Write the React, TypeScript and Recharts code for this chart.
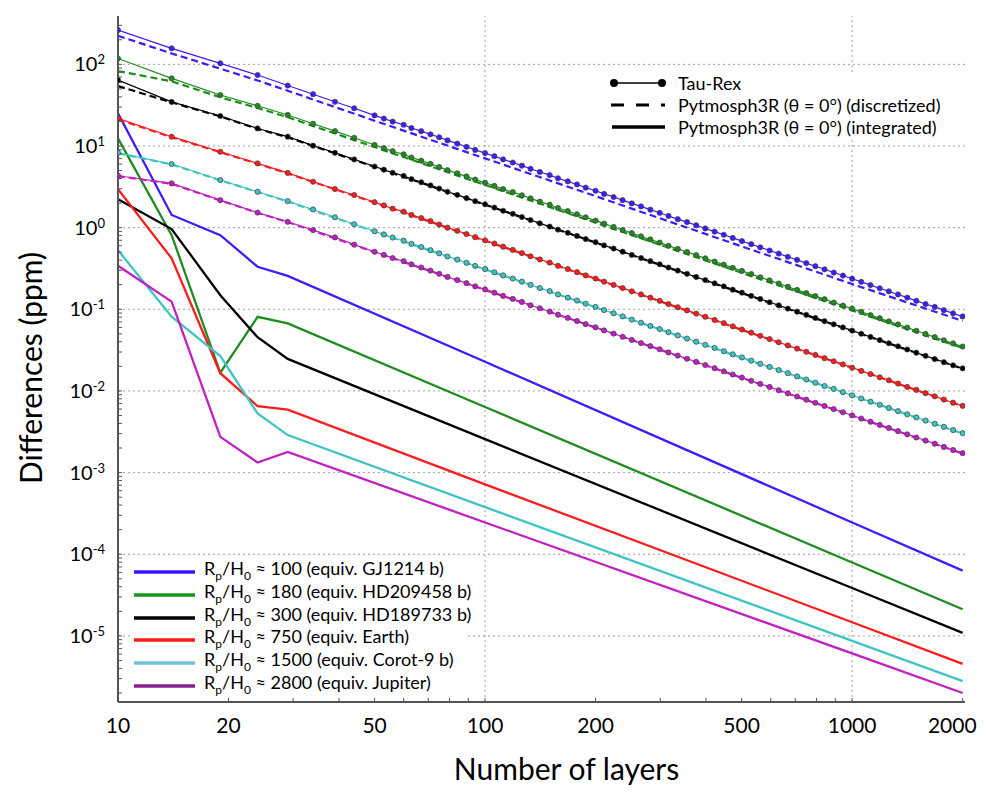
import React from 'react';
import { LineChart, Line, XAxis, YAxis, ReferenceLine, Label } from 'recharts';

const FONT = "Lato, 'Open Sans', sans-serif";

// ---------- series meta ----------
const ratioLabels = ['100', '180', '300', '750', '1500', '2800'];
const planetLabels = ['GJ1214 b', 'HD209458 b', 'HD189733 b', 'Earth', 'Corot-9 b', 'Jupiter'];
const lineColors = ['#3b1eff', '#1e8c1e', '#000000', '#ff1c1c', '#3fc4c4', '#c21fc2'];
const legendColors = ['#3a16ff', '#16961a', '#000000', '#ff1a1a', '#72c0d6', '#8c1c92'];

// ---------- Tau-Rex (markers) ----------
const tauN = [10, 14, 19, 24, 29, 34, 39, 44,
  50, 53, 56, 60, 63, 67, 71, 75, 79, 84, 89, 94,
  100, 106, 112, 119, 126, 133, 141, 150, 158, 168, 178, 188,
  200, 211, 224, 237, 251, 266, 282, 299, 316, 335, 355, 376,
  398, 422, 447, 473, 501, 531, 562, 596, 631, 668, 708, 750,
  794, 841, 891, 944,
  1000, 1059, 1122, 1189, 1259, 1334, 1413, 1496, 1585, 1679, 1778, 1884, 2000];

const tauBlue = [263, 157, 103, 74.0, 55.0, 43.1, 34.8, 29.0,
  23.7, 21.7, 19.9, 18.2, 16.6, 15.2, 13.9, 12.8, 11.7, 10.7, 9.78, 8.95,
  8.19, 7.50, 6.86, 6.28, 5.74, 5.26, 4.81, 4.40, 4.03, 3.69, 3.38, 3.09,
  2.83, 2.59, 2.37, 2.17, 1.98, 1.82, 1.66, 1.52, 1.39, 1.27, 1.17, 1.07,
  0.977, 0.894, 0.818, 0.749, 0.685, 0.627, 0.574, 0.525, 0.481, 0.440, 0.403, 0.368,
  0.337, 0.309, 0.282, 0.259,
  0.237, 0.217, 0.198, 0.181, 0.166, 0.152, 0.139, 0.127, 0.116, 0.107, 0.0976, 0.0893, 0.0817];

const tauGreen = [118, 67.3, 42.1, 31.1, 24.0, 18.7, 15.2, 12.6,
  10.3, 9.43, 8.63, 7.90, 7.22, 6.61, 6.05, 5.53, 5.06, 4.63, 4.24, 3.88,
  3.55, 3.25, 2.97, 2.72, 2.49, 2.28, 2.08, 1.91, 1.74, 1.60, 1.46, 1.34,
  1.22, 1.12, 1.02, 0.936, 0.857, 0.784, 0.717, 0.656, 0.600, 0.549, 0.503, 0.460,
  0.421, 0.385, 0.352, 0.322, 0.295, 0.270, 0.247, 0.226, 0.207, 0.189, 0.173, 0.158,
  0.145, 0.133, 0.121, 0.111,
  0.102, 0.0929, 0.0851, 0.0778, 0.0712, 0.0652, 0.0596, 0.0546, 0.0499, 0.0457, 0.0418, 0.0382, 0.0350];

const tauBlack = [64.3, 34.7, 23.3, 16.4, 13.0, 10.1, 8.26, 6.85,
  5.61, 5.13, 4.70, 4.30, 3.93, 3.60, 3.29, 3.01, 2.75, 2.52, 2.30, 2.11,
  1.93, 1.76, 1.61, 1.48, 1.35, 1.24, 1.13, 1.03, 0.946, 0.866, 0.792, 0.725,
  0.663, 0.606, 0.555, 0.508, 0.464, 0.425, 0.389, 0.356, 0.325, 0.298, 0.272, 0.249,
  0.228, 0.208, 0.191, 0.174, 0.160, 0.146, 0.134, 0.122, 0.112, 0.102, 0.0936, 0.0856,
  0.0783, 0.0716, 0.0655, 0.0600,
  0.0548, 0.0502, 0.0459, 0.0420, 0.0384, 0.0352, 0.0322, 0.0294, 0.0269, 0.0246, 0.0225, 0.0206, 0.0189];

const tauRed = [21.8, 13.0, 8.50, 6.12, 4.68, 3.65, 2.97, 2.51,
  2.05, 1.87, 1.71, 1.57, 1.43, 1.31, 1.20, 1.09, 1.00, 0.915, 0.836, 0.764,
  0.699, 0.639, 0.584, 0.534, 0.488, 0.446, 0.408, 0.373, 0.341, 0.311, 0.285, 0.260,
  0.238, 0.218, 0.199, 0.182, 0.166, 0.152, 0.139, 0.127, 0.116, 0.106, 0.0970, 0.0886,
  0.0811, 0.0741, 0.0677, 0.0619, 0.0566, 0.0517, 0.0473, 0.0432, 0.0395, 0.0361, 0.0330, 0.0302,
  0.0276, 0.0252, 0.0231, 0.0211,
  0.0193, 0.0176, 0.0161, 0.0147, 0.0135, 0.0123, 0.0112, 0.0103, 0.00940, 0.00859, 0.00785, 0.00718, 0.00657];

const tauCyan = [8.26, 6.01, 3.83, 2.75, 2.11, 1.67, 1.34, 1.10,
  0.904, 0.827, 0.756, 0.692, 0.633, 0.579, 0.530, 0.485, 0.443, 0.406, 0.371, 0.340,
  0.311, 0.284, 0.260, 0.238, 0.218, 0.199, 0.182, 0.167, 0.152, 0.139, 0.128, 0.117,
  0.107, 0.0977, 0.0894, 0.0818, 0.0748, 0.0684, 0.0626, 0.0573, 0.0524, 0.0479, 0.0438, 0.0401,
  0.0367, 0.0336, 0.0307, 0.0281, 0.0257, 0.0235, 0.0215, 0.0197, 0.0180, 0.0165, 0.0151, 0.0138,
  0.0126, 0.0115, 0.0106, 0.00966,
  0.00883, 0.00808, 0.00739, 0.00677, 0.00619, 0.00566, 0.00518, 0.00474, 0.00434, 0.00397, 0.00363, 0.00332, 0.00304];

const tauMagenta = [4.32, 3.48, 2.17, 1.53, 1.18, 0.933, 0.760, 0.619,
  0.507, 0.464, 0.424, 0.388, 0.355, 0.325, 0.298, 0.272, 0.249, 0.228, 0.209, 0.191,
  0.175, 0.160, 0.146, 0.134, 0.123, 0.112, 0.103, 0.0939, 0.0859, 0.0786, 0.0719, 0.0658,
  0.0602, 0.0551, 0.0504, 0.0461, 0.0422, 0.0386, 0.0354, 0.0324, 0.0296, 0.0271, 0.0248, 0.0227,
  0.0208, 0.0190, 0.0174, 0.0159, 0.0146, 0.0133, 0.0122, 0.0112, 0.0102, 0.00934, 0.00855, 0.00782,
  0.00716, 0.00655, 0.00599, 0.00548,
  0.00502, 0.00459, 0.00420, 0.00384, 0.00352, 0.00322, 0.00294, 0.00269, 0.00247, 0.00226, 0.00206, 0.00189, 0.00173];

// ---------- Pytmosph3R discretized (dashed) ----------
const discN = [10, 14, 19, 24, 29, 50, 100, 200, 500, 1000, 2000];
const discBlue = [224, 136, 88.5, 63.5, 47.5, 20.4, 7.05, 2.43, 0.59, 0.204, 0.072];
const discGreen = [82.8, 62.0, 39.5, 29.2, 22.5, 9.7, 3.33, 1.15, 0.28, 0.097, 0.0335];
const discBlack = [54.2, 34.2, 23.0, 16.2, 12.8, 5.55, 1.91, 0.656, 0.158, 0.0543, 0.0187];
const discRed = [21.3, 12.8, 8.4, 6.05, 4.62, 2.03, 0.69, 0.236, 0.056, 0.0192, 0.0065];
const discCyan = [8.15, 5.95, 3.80, 2.73, 2.09, 0.895, 0.308, 0.106, 0.0255, 0.0088, 0.0030];
const discMagenta = [4.27, 3.45, 2.15, 1.52, 1.17, 0.502, 0.173, 0.0597, 0.0145, 0.00497, 0.00171];

// ---------- differences (lower thick curves) ----------
const diffN = [10, 14, 19, 24, 29, 100, 1000, 2000];
const diffBlue = [25.1, 1.43, 0.81, 0.332, 0.257, 0.0228, 2.45e-4, 6.30e-5];
const diffGreen = [12.4, 0.81, 0.0167, 0.0807, 0.0671, 6.35e-3, 7.93e-5, 2.12e-5];
const diffBlack = [2.23, 0.96, 0.149, 0.0455, 0.0247, 2.57e-3, 3.86e-5, 1.09e-5];
const diffRed = [2.96, 0.42, 0.0165, 0.0065, 0.0059, 7.18e-4, 1.47e-5, 4.55e-6];
const diffCyan = [0.53, 0.081, 0.0267, 0.0053, 0.00288, 3.78e-4, 8.69e-6, 2.79e-6];
const diffMagenta = [0.341, 0.124, 0.00274, 0.00133, 0.00179, 2.45e-4, 6.10e-6, 2.00e-6];

// ---------- axes ----------
const xDomain = [10, 2030];
const yDomain = [1.55e-6, 391];
const xLabelTicks = [10, 20, 50, 100, 200, 500, 1000, 2000];
const xGridValues = [100, 1000];
const yLabelExps = [-5, -4, -3, -2, -1, 0, 1, 2];
const minorMults = [1, 2, 3, 4, 5, 6, 7, 8, 9];
const xDecades = [1, 2, 3];
const yDecades = [-6, -5, -4, -3, -2, -1, 0, 1, 2];

const xMinorTicks = xDecades
  .flatMap((e) => minorMults.map((m) => Number((m * Math.pow(10, e)).toPrecision(6))))
  .filter((v) => v >= xDomain[0] && v <= xDomain[1]);
const yMinorTicks = yDecades
  .flatMap((e) => minorMults.map((m) => Number((m * Math.pow(10, e)).toPrecision(6))))
  .filter((v) => v >= yDomain[0] && v <= yDomain[1]);
const yGridValues = yLabelExps.map((e) => Number(Math.pow(10, e).toPrecision(6)));

const toPts = (ns: number[], vs: number[]) => ns.map((n, i) => ({ n, v: vs[i] }));

const tauAll = [tauBlue, tauGreen, tauBlack, tauRed, tauCyan, tauMagenta];
const discAll = [discBlue, discGreen, discBlack, discRed, discCyan, discMagenta];
const diffAll = [diffBlue, diffGreen, diffBlack, diffRed, diffCyan, diffMagenta];

const AXIS_COLOR = '#555555';

const XTick = (props: any) => {
  const { x, y, payload } = props;
  if (!xLabelTicks.includes(payload.value)) return <g />;
  const isLast = payload.value === xLabelTicks[xLabelTicks.length - 1];
  return (
    <text
      x={isLast ? x + 14 : x}
      y={y + 31}
      textAnchor={isLast ? 'end' : 'middle'}
      fontSize={21}
      fontFamily={FONT}
      fill="#000"
      stroke="none"
    >
      {payload.value}
    </text>
  );
};

const YTick = (props: any) => {
  const { x, y, payload } = props;
  const lg = Math.log10(payload.value);
  const e = Math.round(lg);
  if (Math.abs(lg - e) > 1e-6 || !yLabelExps.includes(e)) return <g />;
  return (
    <text x={x} y={y + 7} textAnchor="end" fontSize={20} fontFamily={FONT} fill="#000" stroke="none">
      10
      <tspan dy={-7} fontSize={13}>{String(e)}</tspan>
    </text>
  );
};

const EmptyTick = () => <g />;

const TopLegend = () => {
  const rows = [
    { label: 'Tau-Rex', kind: 'tau' },
    { label: 'Pytmosph3R (θ = 0°) (discretized)', kind: 'dash' },
    { label: 'Pytmosph3R (θ = 0°) (integrated)', kind: 'solid' },
  ];
  return (
    <div style={{ position: 'absolute', left: 587, top: 64, width: 360, background: '#fff', fontFamily: FONT }}>
      {rows.map((r) => (
        <div key={r.label} style={{ height: 22, display: 'flex', alignItems: 'center' }}>
          <svg width={64} height={22} style={{ marginLeft: 8, flex: 'none' }}>
            {r.kind === 'tau' && (
              <g>
                <line x1={11} y1={11} x2={59} y2={11} stroke="#000" strokeWidth={1.5} />
                <circle cx={11} cy={11} r={4} fill="#000" />
                <circle cx={59} cy={11} r={4} fill="#000" />
              </g>
            )}
            {r.kind === 'dash' && (
              <line x1={8} y1={11} x2={62} y2={11} stroke="#000" strokeWidth={3.2} strokeDasharray="13 12" />
            )}
            {r.kind === 'solid' && <line x1={9} y1={11} x2={62} y2={11} stroke="#000" strokeWidth={3.6} />}
          </svg>
          <span style={{ marginLeft: 11, fontSize: 18, color: '#000', whiteSpace: 'nowrap' }}>{r.label}</span>
        </div>
      ))}
    </div>
  );
};

const BottomLegend = () => (
  <div style={{ position: 'absolute', left: 122, top: 553, width: 335, background: '#fff', fontFamily: FONT }}>
    {ratioLabels.map((r, i) => (
      <div key={r} style={{ height: 22.7, display: 'flex', alignItems: 'center' }}>
        <svg width={61} height={22} style={{ marginLeft: 4, flex: 'none' }}>
          <line x1={0} y1={11} x2={61} y2={11} stroke={legendColors[i]} strokeWidth={3.6} />
        </svg>
        <span style={{ marginLeft: 9, fontSize: 18, color: '#000', whiteSpace: 'nowrap', lineHeight: '22px' }}>
          R<span style={{ fontSize: 12, verticalAlign: -5 }}>p</span>/H
          <span style={{ fontSize: 12, verticalAlign: -5 }}>0</span> ≈ {r} (equiv. {planetLabels[i]})
        </span>
      </div>
    ))}
  </div>
);

export default function App() {
  return (
    <div style={{ position: 'relative', width: 981, height: 790, fontFamily: FONT }}>
      <LineChart width={981} height={790} margin={{ top: 8, right: 24, bottom: 0, left: 0 }}>
        <XAxis
          dataKey="n"
          type="number"
          scale="log"
          domain={xDomain}
          allowDataOverflow
          ticks={xMinorTicks}
          interval={0}
          height={96}
          tickSize={-4}
          tickMargin={4}
          tick={XTick}
          axisLine={{ stroke: AXIS_COLOR, strokeWidth: 2 }}
          tickLine={{ stroke: AXIS_COLOR, strokeWidth: 1 }}
        >
          <Label
            content={(p: any) => {
              const vb = p.viewBox;
              return (
                <text x={vb.x + vb.width / 2 + 25} y={vb.y + 78} textAnchor="middle" fontSize={30} fontFamily={FONT} fill="#000">
                  Number of layers
                </text>
              );
            }}
          />
        </XAxis>
        <XAxis
          xAxisId="top"
          orientation="top"
          dataKey="n"
          type="number"
          scale="log"
          domain={xDomain}
          allowDataOverflow
          ticks={xMinorTicks}
          interval={0}
          height={0}
          tickSize={-4}
          tick={EmptyTick}
          axisLine={{ stroke: AXIS_COLOR, strokeWidth: 2 }}
          tickLine={{ stroke: AXIS_COLOR, strokeWidth: 1 }}
        />
        <YAxis
          type="number"
          scale="log"
          domain={yDomain}
          allowDataOverflow
          ticks={yMinorTicks}
          interval={0}
          width={110}
          tickSize={-4}
          tickMargin={17}
          tick={YTick}
          axisLine={{ stroke: AXIS_COLOR, strokeWidth: 2 }}
          tickLine={{ stroke: AXIS_COLOR, strokeWidth: 1 }}
        >
          <Label
            content={(p: any) => {
              const vb = p.viewBox;
              const cx = vb.x + 34;
              const cy = vb.y + vb.height / 2 + 9;
              return (
                <text
                  x={cx}
                  y={cy}
                  textAnchor="middle"
                  fontSize={30}
                  fontFamily={FONT}
                  fill="#000"
                  transform={`rotate(-90, ${cx}, ${cy})`}
                >
                  Differences (ppm)
                </text>
              );
            }}
          />
        </YAxis>
        <YAxis
          yAxisId="right"
          orientation="right"
          type="number"
          scale="log"
          domain={yDomain}
          allowDataOverflow
          ticks={yMinorTicks}
          interval={0}
          width={0}
          tickSize={-4}
          tick={EmptyTick}
          axisLine={{ stroke: AXIS_COLOR, strokeWidth: 2 }}
          tickLine={{ stroke: AXIS_COLOR, strokeWidth: 1 }}
        />

        {yGridValues.map((v) => (
          <ReferenceLine key={'gy' + v} y={v} stroke="#a0a0a0" strokeDasharray="2 3" strokeWidth={1} />
        ))}
        {xGridValues.map((v) => (
          <ReferenceLine key={'gx' + v} x={v} stroke="#a0a0a0" strokeDasharray="2 3" strokeWidth={1} />
        ))}

        {diffAll.map((vals, i) => (
          <Line
            key={'diff' + i}
            data={toPts(diffN, vals)}
            dataKey="v"
            stroke={lineColors[i]}
            strokeWidth={2.3}
            dot={false}
            type="linear"
            isAnimationActive={false}
          />
        ))}
        {discAll.map((vals, i) => (
          <Line
            key={'disc' + i}
            data={toPts(discN, vals)}
            dataKey="v"
            stroke={lineColors[i]}
            strokeWidth={2.2}
            strokeDasharray="7 4"
            dot={false}
            type="linear"
            isAnimationActive={false}
          />
        ))}
        {tauAll.map((vals, i) => (
          <Line
            key={'tau' + i}
            data={toPts(tauN, vals)}
            dataKey="v"
            stroke={lineColors[i]}
            strokeWidth={1.2}
            dot={{ r: 2.6, fill: lineColors[i], stroke: '#3c3c3c', strokeWidth: 0.7 }}
            type="linear"
            isAnimationActive={false}
          />
        ))}
      </LineChart>
      <TopLegend />
      <BottomLegend />
    </div>
  );
}
